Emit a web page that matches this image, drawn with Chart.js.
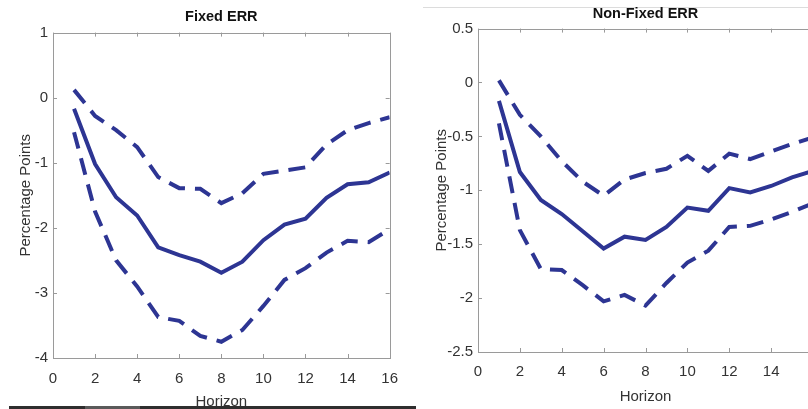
<!DOCTYPE html>
<html>
<head>
<meta charset="utf-8">
<script src="https://cdn.jsdelivr.net/npm/chart.js@4/dist/chart.umd.min.js"></script>
<style>
  body { margin: 0; width: 808px; height: 409px; overflow: hidden; background: #fff; position: relative; }
  #left { position: absolute; left: 0; top: 0; }
  #right { position: absolute; left: 410px; top: 0; }
  #topline { position: absolute; left: 423px; top: 7px; width: 385px; height: 1px; background: #dcdcdc; }
  #bar { position: absolute; left: 9px; top: 406px; width: 407px; height: 3px; background: #2e2e2e; }
  #bar2 { position: absolute; left: 85px; top: 406px; width: 55px; height: 3px; background: #5a5a5a; }
</style>
</head>
<body>
<div id="topline"></div>
<canvas id="left" width="410" height="409"></canvas>
<canvas id="right" width="420" height="409"></canvas>
<div id="bar"></div>
<div id="bar2"></div>
<script>
const horizons = [1, 2, 3, 4, 5, 6, 7, 8, 9, 10, 11, 12, 13, 14, 15, 16];

// Fixed ERR
const fixedMean  = [-0.17, -1.02, -1.53, -1.81, -2.30, -2.42, -2.52, -2.69, -2.52, -2.19, -1.95, -1.86, -1.54, -1.33, -1.30, -1.15];
const fixedUpper = [0.12, -0.28, -0.50, -0.76, -1.22, -1.39, -1.40, -1.62, -1.47, -1.17, -1.12, -1.07, -0.72, -0.50, -0.39, -0.30];
const fixedLower = [-0.53, -1.75, -2.50, -2.90, -3.37, -3.43, -3.66, -3.75, -3.57, -3.20, -2.80, -2.62, -2.38, -2.20, -2.22, -2.02];

// Non-Fixed ERR
const nonFixedMean  = [-0.17, -0.83, -1.09, -1.22, -1.38, -1.54, -1.43, -1.46, -1.34, -1.16, -1.19, -0.98, -1.02, -0.96, -0.88, -0.82];
const nonFixedUpper = [0.02, -0.30, -0.50, -0.73, -0.92, -1.05, -0.90, -0.84, -0.80, -0.68, -0.82, -0.66, -0.71, -0.64, -0.57, -0.51];
const nonFixedLower = [-0.38, -1.37, -1.73, -1.74, -1.88, -2.03, -1.97, -2.07, -1.86, -1.67, -1.56, -1.34, -1.33, -1.27, -1.20, -1.12];

const fixedYTicks = [-4, -3, -2, -1, 0, 1];
const nonFixedYTicks = [-2.5, -2, -1.5, -1, -0.5, 0, 0.5];
const fixedXTicks = [0, 2, 4, 6, 8, 10, 12, 14, 16];
const nonFixedXTicks = [0, 2, 4, 6, 8, 10, 12, 14];

const blue = '#2d3593';
const font = 'Liberation Sans, Arial, sans-serif';

function pts(vals) {
  return horizons.map((h, i) => ({ x: h, y: vals[i] }));
}

// box round the plot with ticks pointing inward
const frame = {
  id: 'frame',
  afterDraw(chart) {
    const { ctx, chartArea: a, scales: { x, y } } = chart;
    ctx.save();
    ctx.strokeStyle = '#9a9a9a';
    ctx.lineWidth = 1;
    ctx.strokeRect(Math.round(a.left) + 0.5, Math.round(a.top) + 0.5, Math.round(a.width), Math.round(a.height));
    ctx.beginPath();
    x.ticks.forEach(t => {
      const px = Math.round(x.getPixelForValue(t.value)) + 0.5;
      ctx.moveTo(px, a.bottom); ctx.lineTo(px, a.bottom - 4);
      ctx.moveTo(px, a.top); ctx.lineTo(px, a.top + 4);
    });
    y.ticks.forEach(t => {
      const py = Math.round(y.getPixelForValue(t.value)) + 0.5;
      ctx.moveTo(a.left, py); ctx.lineTo(a.left + 4, py);
      ctx.moveTo(a.right, py); ctx.lineTo(a.right - 4, py);
    });
    ctx.stroke();
    ctx.restore();
  }
};

function makeChart(id, cfg) {
  const line = (vals, dashed) => ({
    data: pts(vals),
    borderColor: blue,
    borderWidth: 4,
    borderDash: dashed ? [17, 10] : [],
    borderCapStyle: 'butt',
    pointRadius: 0,
    tension: 0,
    fill: false
  });
  return new Chart(document.getElementById(id), {
    type: 'line',
    data: { datasets: [line(cfg.upper, true), line(cfg.mean, false), line(cfg.lower, true)] },
    options: {
      responsive: false,
      animation: false,
      layout: { padding: { left: 0, right: cfg.padRight, top: 0, bottom: 0 } },
      plugins: {
        legend: { display: false },
        tooltip: { enabled: false },
        title: {
          display: true,
          text: cfg.title,
          fullSize: false,
          color: '#111',
          font: { family: font, size: 14.5, weight: 'bold', lineHeight: 1.2 },
          padding: cfg.titlePad
        }
      },
      scales: {
        x: {
          type: 'linear',
          min: 0, max: 16,
          grid: { display: false, drawTicks: false },
          border: { display: false },
          afterBuildTicks: s => { s.ticks = cfg.xTicks.map(v => ({ value: v })); },
          afterFit: s => { s.height = cfg.xHeight; },
          ticks: { color: '#333', padding: cfg.xPad, maxRotation: 0, autoSkip: false, font: { family: font, size: 15 }, callback: v => String(v) },
          title: { display: true, text: 'Horizon', color: '#333', font: { family: font, size: 15, lineHeight: 1.2 }, padding: { top: 0, bottom: cfg.xTitlePad } }
        },
        y: {
          type: 'linear',
          min: cfg.yTicks[0], max: cfg.yTicks[cfg.yTicks.length - 1],
          grid: { display: false, drawTicks: false },
          border: { display: false },
          afterBuildTicks: s => { s.ticks = cfg.yTicks.map(v => ({ value: v })); },
          afterFit: s => { s.width = cfg.yWidth; },
          ticks: { color: '#333', padding: 5, autoSkip: false, font: { family: font, size: 15 }, callback: v => String(v) },
          title: { display: true, text: 'Percentage Points', color: '#333', font: { family: font, size: 15, lineHeight: 1.2 }, padding: { top: cfg.yTitlePad, bottom: 0 } }
        }
      }
    },
    plugins: [frame]
  });
}

makeChart('left', {
  title: 'Fixed ERR',
  mean: fixedMean, upper: fixedUpper, lower: fixedLower,
  yTicks: fixedYTicks, xTicks: fixedXTicks,
  padRight: 20, yWidth: 53, xHeight: 51,
  titlePad: { top: 8.6, bottom: 6.6 },
  xPad: 12, xTitlePad: -2, yTitlePad: 17
});

makeChart('right', {
  title: 'Non-Fixed ERR',
  mean: nonFixedMean, upper: nonFixedUpper, lower: nonFixedLower,
  yTicks: nonFixedYTicks, xTicks: nonFixedXTicks,
  padRight: 17, yWidth: 68, xHeight: 57,
  titlePad: { top: 5.6, bottom: 5.6 },
  xPad: 11, xTitlePad: 3, yTitlePad: 23
});
</script>
</body>
</html>
